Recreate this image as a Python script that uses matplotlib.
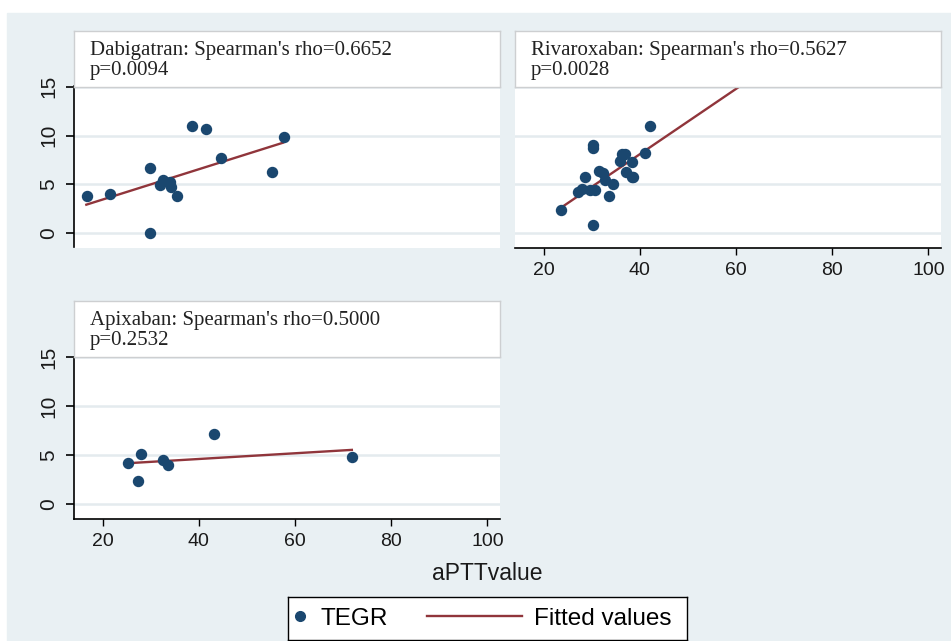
import matplotlib
matplotlib.use("Agg")
import matplotlib.pyplot as plt
from matplotlib.patches import Rectangle
from matplotlib.lines import Line2D

plt.rcParams['font.family'] = ['Liberation Sans', 'DejaVu Sans']

# ---------------- data ----------------
dab_x = [16.7, 21.5, 29.8, 29.8, 31.9, 32.6, 34.0, 34.1, 35.4, 38.5, 41.5, 44.6, 55.1, 57.6]
dab_y = [3.82, 4.02, 6.68, 0.06, 4.91, 5.45, 5.25, 4.77, 3.82, 10.98, 10.64, 7.67, 6.30, 9.88]
dab_fit_x = [16.6, 57.5]
dab_fit_y = [2.93, 9.27]

riv_x = [23.6, 30.3, 30.3, 30.2, 28.5, 27.2, 27.9, 29.6, 30.7, 31.5, 32.4, 32.7,
         34.5, 33.5, 36.2, 36.9, 35.9, 38.4, 37.1, 38.3, 38.6, 41.1, 42.1]
riv_y = [2.38, 0.85, 9.04, 8.70, 5.73, 4.26, 4.50, 4.43, 4.43, 6.40, 6.14, 5.45,
         5.04, 3.82, 8.11, 8.11, 7.43, 7.30, 6.30, 5.80, 5.73, 8.19, 11.0]
riv_fit_x = [23.6, 70.0]
riv_fit_y = [2.62, 18.12]

api_x = [25.3, 28.0, 27.3, 32.6, 33.6, 43.1, 71.8]
api_y = [4.26, 5.15, 2.35, 4.53, 3.99, 7.19, 4.81]
api_fit_x = [25.3, 71.8]
api_fit_y = [4.20, 5.56]

titles = ["Dabigatran: Spearman's rho=0.6652\np=0.0094",
          "Rivaroxaban: Spearman's rho=0.5627\np=0.0028",
          "Apixaban: Spearman's rho=0.5000\np=0.2532"]
xticks = [20, 40, 60, 80, 100]
yticks = [0, 5, 10, 15]
xlabel = "aPTTvalue"
legend_labels = ["TEGR", "Fitted values"]

# ---------------- style ----------------
W, H = 951, 641
NAVY = '#1a476f'
MAROON = '#90353b'
BG = '#e9f0f3'
GRID = '#e4ebee'
XLIM = (14.1, 102.6)
YLIM = (-1.45, 15.07)


def rect(l, t, r, b):
    return [l / W, 1 - b / H, (r - l) / W, (b - t) / H]


fig = plt.figure(figsize=(W / 100, H / 100), dpi=100)
fig.patch.set_facecolor('white')
fig.patches.append(Rectangle((7 / W, 0), (W - 7) / W, (H - 13) / H,
                             transform=fig.transFigure, color=BG, zorder=-10))


def make_panel(pos, xs, ys, fx, fy, show_x, show_y):
    ax = fig.add_axes(pos, zorder=1)
    ax.set_facecolor('white')
    ax.set_xlim(*XLIM)
    ax.set_ylim(*YLIM)
    ax.set_yticks(yticks)
    ax.set_xticks(xticks)
    ax.yaxis.grid(True, color=GRID, lw=1.8, zorder=0)
    ax.set_axisbelow(True)
    for s in ['top', 'right', 'left', 'bottom']:
        ax.spines[s].set_visible(False)
    if show_y:
        ax.spines['left'].set_visible(True)
        ax.spines['left'].set_linewidth(1.2)
        ax.tick_params(axis='y', length=5.8, width=1.2, pad=5.5, labelsize=15,
                       labelrotation=90, labelcolor='#1a1a1a')
        for lab in ax.get_yticklabels():
            lab.set_va('center')
    else:
        ax.tick_params(axis='y', length=0, labelleft=False)
    if show_x:
        ax.spines['bottom'].set_visible(True)
        ax.spines['bottom'].set_linewidth(1.2)
        ax.tick_params(axis='x', length=4.7, width=1.0, pad=5.5, labelsize=14,
                       labelcolor='#1a1a1a')
    else:
        ax.tick_params(axis='x', length=0, labelbottom=False)
    ax.plot(fx, fy, color=MAROON, lw=1.7, zorder=3)
    ax.plot(xs, ys, ls='none', marker='o', ms=7.2, color=NAVY, mec=NAVY, zorder=4,
            clip_on=False)
    return ax


ax1 = make_panel(rect(74.3, 86, 500, 247.5), dab_x, dab_y, dab_fit_x, dab_fit_y, False, True)
ax2 = make_panel(rect(515.3, 86, 941, 247.5), riv_x, riv_y, riv_fit_x, riv_fit_y, True, False)
ax3 = make_panel(rect(74.3, 356.8, 500, 518.5), api_x, api_y, api_fit_x, api_fit_y, True, True)

# title boxes
boxes = [(74, 31, 500, 86.5), (515, 31, 941, 86.5), (74, 301, 500, 357.3)]
for (l, t, r, b), ttl in zip(boxes, titles):
    bx = fig.add_axes(rect(l, t, r, b), zorder=5)
    bx.set_facecolor('white')
    bx.set_xticks([])
    bx.set_yticks([])
    for s in bx.spines.values():
        s.set_edgecolor('#cdcfd1')
        s.set_linewidth(1.0)
    line1, line2 = ttl.split('\n')
    bx.text(16 / (r - l), 1 - 24.5 / (b - t), line1, transform=bx.transAxes,
            family='Liberation Serif', fontsize=15, color='#222222',
            va='baseline', ha='left')
    bx.text(16 / (r - l), 1 - 43.5 / (b - t), line2, transform=bx.transAxes,
            family='Liberation Serif', fontsize=15, color='#222222',
            va='baseline', ha='left')

# x label
fig.text(487 / W, 1 - 574 / H, xlabel, fontsize=16.5, ha='center', va='center',
         color='#1a1a1a')

# legend
lax = fig.add_axes(rect(288, 597, 687, 640), zorder=2)
lax.set_facecolor('white')
lax.set_xticks([])
lax.set_yticks([])
for s in lax.spines.values():
    s.set_edgecolor('black')
    s.set_linewidth(1.0)
fs = 17.5
h1 = Line2D([], [], ls='none', marker='o', ms=7, color=NAVY)
h2 = Line2D([], [], color=MAROON, lw=1.7)
lw_px = 399.0
leg1 = lax.legend([h1], [legend_labels[0]], loc='center left',
                  bbox_to_anchor=((293 - 288) / lw_px, 0.5), frameon=False,
                  fontsize=fs, handlelength=0.55, handletextpad=0.6,
                  borderpad=0, borderaxespad=0)
lax.add_artist(leg1)
leg2 = lax.legend([h2], [legend_labels[1]], loc='center left',
                  bbox_to_anchor=((427 - 288) / lw_px, 0.5), frameon=False,
                  fontsize=fs, handlelength=3.9, handletextpad=0.5,
                  borderpad=0, borderaxespad=0)

fig.savefig('out.png', dpi=100, facecolor=fig.get_facecolor())
